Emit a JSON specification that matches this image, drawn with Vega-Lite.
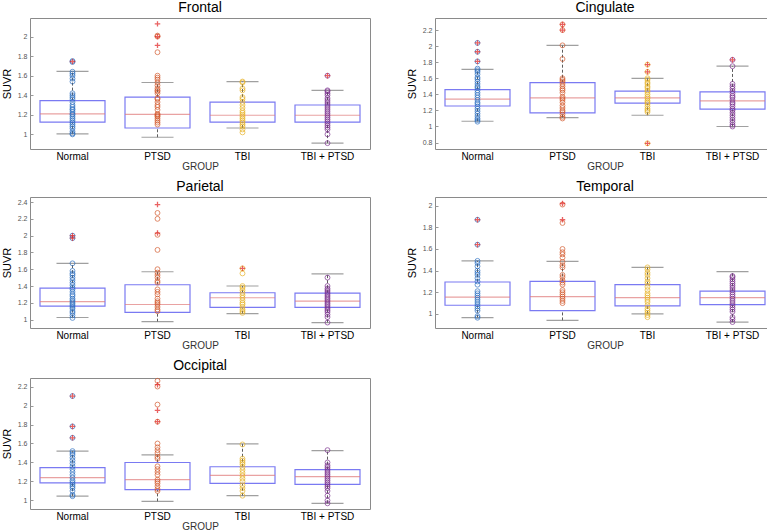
{
"$schema":"https://vega.github.io/schema/vega-lite/v6.json",
"padding":{"left":0,"top":0,"right":0,"bottom":0},
"background":"white",
"config":{
 "font":"Liberation Sans",
 "view":{"stroke":"#8a8a8a","strokeWidth":1},
 "title":{"fontSize":14,"fontWeight":"normal","font":"Liberation Sans","color":"#000","offset":3},
 "axisY":{"grid":false,"domain":false,"tickSize":-3,"tickColor":"#999","labelPadding":6,"labelFontSize":7,"labelColor":"#555","labelOverlap":false,"format":"~g","titleFontSize":11,"titleFontWeight":"normal","titleColor":"#000","titlePadding":5},
 "axisX":{"grid":false,"domain":false,"ticks":false,"labelAngle":0,"labelFontSize":10,"labelColor":"#000","titleFontSize":10,"titleFontWeight":"normal","titleColor":"#333","labelPadding":2,"titlePadding":0}
},
"datasets":{"d":[
{"r":"Frontal","g":"Normal","lo":1.005,"q1":1.125,"md":1.21,"q3":1.345,"hi":1.645},
{"r":"Frontal","g":"PTSD","lo":0.97,"q1":1.065,"md":1.205,"q3":1.38,"hi":1.53},
{"r":"Frontal","g":"TBI","lo":1.065,"q1":1.125,"md":1.195,"q3":1.33,"hi":1.54},
{"r":"Frontal","g":"TBI + PTSD","lo":0.91,"q1":1.125,"md":1.195,"q3":1.3,"hi":1.45},
{"r":"Cingulate","g":"Normal","lo":1.065,"q1":1.255,"md":1.34,"q3":1.46,"hi":1.71},
{"r":"Cingulate","g":"PTSD","lo":1.11,"q1":1.17,"md":1.355,"q3":1.545,"hi":2.01},
{"r":"Cingulate","g":"TBI","lo":1.14,"q1":1.29,"md":1.355,"q3":1.44,"hi":1.6},
{"r":"Cingulate","g":"TBI + PTSD","lo":1.0,"q1":1.215,"md":1.32,"q3":1.43,"hi":1.75},
{"r":"Parietal","g":"Normal","lo":1.025,"q1":1.16,"md":1.215,"q3":1.375,"hi":1.67},
{"r":"Parietal","g":"PTSD","lo":0.975,"q1":1.085,"md":1.18,"q3":1.415,"hi":1.57},
{"r":"Parietal","g":"TBI","lo":1.07,"q1":1.145,"md":1.26,"q3":1.32,"hi":1.4},
{"r":"Parietal","g":"TBI + PTSD","lo":0.965,"q1":1.145,"md":1.22,"q3":1.315,"hi":1.545},
{"r":"Temporal","g":"Normal","lo":0.965,"q1":1.08,"md":1.155,"q3":1.295,"hi":1.49},
{"r":"Temporal","g":"PTSD","lo":0.94,"q1":1.03,"md":1.16,"q3":1.3,"hi":1.485},
{"r":"Temporal","g":"TBI","lo":1.0,"q1":1.075,"md":1.15,"q3":1.27,"hi":1.43},
{"r":"Temporal","g":"TBI + PTSD","lo":0.925,"q1":1.085,"md":1.15,"q3":1.21,"hi":1.39},
{"r":"Occipital","g":"Normal","lo":1.045,"q1":1.185,"md":1.24,"q3":1.345,"hi":1.52},
{"r":"Occipital","g":"PTSD","lo":0.99,"q1":1.115,"md":1.22,"q3":1.4,"hi":1.48},
{"r":"Occipital","g":"TBI","lo":1.05,"q1":1.18,"md":1.265,"q3":1.355,"hi":1.595},
{"r":"Occipital","g":"TBI + PTSD","lo":0.97,"q1":1.17,"md":1.25,"q3":1.325,"hi":1.525},
{"r":"Frontal","g":"Normal","o":1.745},
{"r":"Frontal","g":"PTSD","o":2.13},
{"r":"Frontal","g":"PTSD","o":2.0},
{"r":"Frontal","g":"PTSD","o":1.91},
{"r":"Frontal","g":"TBI + PTSD","o":1.6},
{"r":"Cingulate","g":"Normal","o":2.04},
{"r":"Cingulate","g":"Normal","o":1.93},
{"r":"Cingulate","g":"Normal","o":1.81},
{"r":"Cingulate","g":"PTSD","o":2.27},
{"r":"Cingulate","g":"PTSD","o":2.2},
{"r":"Cingulate","g":"TBI","o":1.77},
{"r":"Cingulate","g":"TBI","o":1.68},
{"r":"Cingulate","g":"TBI","o":0.79},
{"r":"Cingulate","g":"TBI + PTSD","o":1.83},
{"r":"Parietal","g":"Normal","o":2.0},
{"r":"Parietal","g":"Normal","o":1.97},
{"r":"Parietal","g":"PTSD","o":2.37},
{"r":"Parietal","g":"PTSD","o":2.03},
{"r":"Parietal","g":"TBI","o":1.61},
{"r":"Temporal","g":"Normal","o":1.87},
{"r":"Temporal","g":"Normal","o":1.64},
{"r":"Temporal","g":"PTSD","o":2.02},
{"r":"Temporal","g":"PTSD","o":1.87},
{"r":"Occipital","g":"Normal","o":2.1},
{"r":"Occipital","g":"Normal","o":1.78},
{"r":"Occipital","g":"Normal","o":1.66},
{"r":"Occipital","g":"PTSD","o":2.22},
{"r":"Occipital","g":"PTSD","o":1.95},
{"r":"Occipital","g":"PTSD","o":1.83},
{"r":"Frontal","g":"Normal","v":1.0},{"r":"Frontal","g":"Normal","v":1.01},{"r":"Frontal","g":"Normal","v":1.03},{"r":"Frontal","g":"Normal","v":1.06},{"r":"Frontal","g":"Normal","v":1.08},{"r":"Frontal","g":"Normal","v":1.1},{"r":"Frontal","g":"Normal","v":1.12},{"r":"Frontal","g":"Normal","v":1.14},{"r":"Frontal","g":"Normal","v":1.16},{"r":"Frontal","g":"Normal","v":1.18},{"r":"Frontal","g":"Normal","v":1.2},{"r":"Frontal","g":"Normal","v":1.21},{"r":"Frontal","g":"Normal","v":1.23},{"r":"Frontal","g":"Normal","v":1.25},{"r":"Frontal","g":"Normal","v":1.26},{"r":"Frontal","g":"Normal","v":1.28},{"r":"Frontal","g":"Normal","v":1.3},{"r":"Frontal","g":"Normal","v":1.33},{"r":"Frontal","g":"Normal","v":1.36},{"r":"Frontal","g":"Normal","v":1.38},{"r":"Frontal","g":"Normal","v":1.4},{"r":"Frontal","g":"Normal","v":1.42},{"r":"Frontal","g":"Normal","v":1.54},{"r":"Frontal","g":"Normal","v":1.57},{"r":"Frontal","g":"Normal","v":1.6},{"r":"Frontal","g":"Normal","v":1.62},{"r":"Frontal","g":"Normal","v":1.64},{"r":"Frontal","g":"Normal","v":1.74},{"r":"Frontal","g":"Normal","v":1.75},
{"r":"Frontal","g":"PTSD","v":1.1},{"r":"Frontal","g":"PTSD","v":1.12},{"r":"Frontal","g":"PTSD","v":1.14},{"r":"Frontal","g":"PTSD","v":1.16},{"r":"Frontal","g":"PTSD","v":1.18},{"r":"Frontal","g":"PTSD","v":1.19},{"r":"Frontal","g":"PTSD","v":1.2},{"r":"Frontal","g":"PTSD","v":1.21},{"r":"Frontal","g":"PTSD","v":1.25},{"r":"Frontal","g":"PTSD","v":1.28},{"r":"Frontal","g":"PTSD","v":1.3},{"r":"Frontal","g":"PTSD","v":1.33},{"r":"Frontal","g":"PTSD","v":1.36},{"r":"Frontal","g":"PTSD","v":1.37},{"r":"Frontal","g":"PTSD","v":1.42},{"r":"Frontal","g":"PTSD","v":1.44},{"r":"Frontal","g":"PTSD","v":1.45},{"r":"Frontal","g":"PTSD","v":1.47},{"r":"Frontal","g":"PTSD","v":1.5},{"r":"Frontal","g":"PTSD","v":1.53},{"r":"Frontal","g":"PTSD","v":1.56},{"r":"Frontal","g":"PTSD","v":1.58},{"r":"Frontal","g":"PTSD","v":1.6},{"r":"Frontal","g":"PTSD","v":1.84},{"r":"Frontal","g":"PTSD","v":2.0},{"r":"Frontal","g":"PTSD","v":2.01},
{"r":"Frontal","g":"TBI","v":1.02},{"r":"Frontal","g":"TBI","v":1.05},{"r":"Frontal","g":"TBI","v":1.08},{"r":"Frontal","g":"TBI","v":1.1},{"r":"Frontal","g":"TBI","v":1.12},{"r":"Frontal","g":"TBI","v":1.14},{"r":"Frontal","g":"TBI","v":1.16},{"r":"Frontal","g":"TBI","v":1.18},{"r":"Frontal","g":"TBI","v":1.2},{"r":"Frontal","g":"TBI","v":1.22},{"r":"Frontal","g":"TBI","v":1.24},{"r":"Frontal","g":"TBI","v":1.27},{"r":"Frontal","g":"TBI","v":1.3},{"r":"Frontal","g":"TBI","v":1.33},{"r":"Frontal","g":"TBI","v":1.36},{"r":"Frontal","g":"TBI","v":1.38},{"r":"Frontal","g":"TBI","v":1.45},{"r":"Frontal","g":"TBI","v":1.47},{"r":"Frontal","g":"TBI","v":1.53},{"r":"Frontal","g":"TBI","v":1.54},
{"r":"Frontal","g":"TBI + PTSD","v":0.91},{"r":"Frontal","g":"TBI + PTSD","v":1.0},{"r":"Frontal","g":"TBI + PTSD","v":1.05},{"r":"Frontal","g":"TBI + PTSD","v":1.07},{"r":"Frontal","g":"TBI + PTSD","v":1.09},{"r":"Frontal","g":"TBI + PTSD","v":1.11},{"r":"Frontal","g":"TBI + PTSD","v":1.13},{"r":"Frontal","g":"TBI + PTSD","v":1.15},{"r":"Frontal","g":"TBI + PTSD","v":1.17},{"r":"Frontal","g":"TBI + PTSD","v":1.19},{"r":"Frontal","g":"TBI + PTSD","v":1.21},{"r":"Frontal","g":"TBI + PTSD","v":1.23},{"r":"Frontal","g":"TBI + PTSD","v":1.25},{"r":"Frontal","g":"TBI + PTSD","v":1.27},{"r":"Frontal","g":"TBI + PTSD","v":1.29},{"r":"Frontal","g":"TBI + PTSD","v":1.31},{"r":"Frontal","g":"TBI + PTSD","v":1.33},{"r":"Frontal","g":"TBI + PTSD","v":1.35},{"r":"Frontal","g":"TBI + PTSD","v":1.37},{"r":"Frontal","g":"TBI + PTSD","v":1.4},{"r":"Frontal","g":"TBI + PTSD","v":1.42},{"r":"Frontal","g":"TBI + PTSD","v":1.44},{"r":"Frontal","g":"TBI + PTSD","v":1.45},{"r":"Frontal","g":"TBI + PTSD","v":1.6},
{"r":"Cingulate","g":"Normal","v":1.06},{"r":"Cingulate","g":"Normal","v":1.08},{"r":"Cingulate","g":"Normal","v":1.1},{"r":"Cingulate","g":"Normal","v":1.13},{"r":"Cingulate","g":"Normal","v":1.16},{"r":"Cingulate","g":"Normal","v":1.19},{"r":"Cingulate","g":"Normal","v":1.22},{"r":"Cingulate","g":"Normal","v":1.25},{"r":"Cingulate","g":"Normal","v":1.28},{"r":"Cingulate","g":"Normal","v":1.3},{"r":"Cingulate","g":"Normal","v":1.33},{"r":"Cingulate","g":"Normal","v":1.36},{"r":"Cingulate","g":"Normal","v":1.39},{"r":"Cingulate","g":"Normal","v":1.42},{"r":"Cingulate","g":"Normal","v":1.45},{"r":"Cingulate","g":"Normal","v":1.48},{"r":"Cingulate","g":"Normal","v":1.5},{"r":"Cingulate","g":"Normal","v":1.53},{"r":"Cingulate","g":"Normal","v":1.56},{"r":"Cingulate","g":"Normal","v":1.59},{"r":"Cingulate","g":"Normal","v":1.61},{"r":"Cingulate","g":"Normal","v":1.65},{"r":"Cingulate","g":"Normal","v":1.68},{"r":"Cingulate","g":"Normal","v":1.7},{"r":"Cingulate","g":"Normal","v":1.72},{"r":"Cingulate","g":"Normal","v":1.81},{"r":"Cingulate","g":"Normal","v":1.93},{"r":"Cingulate","g":"Normal","v":2.04},
{"r":"Cingulate","g":"PTSD","v":1.1},{"r":"Cingulate","g":"PTSD","v":1.12},{"r":"Cingulate","g":"PTSD","v":1.15},{"r":"Cingulate","g":"PTSD","v":1.18},{"r":"Cingulate","g":"PTSD","v":1.2},{"r":"Cingulate","g":"PTSD","v":1.23},{"r":"Cingulate","g":"PTSD","v":1.26},{"r":"Cingulate","g":"PTSD","v":1.3},{"r":"Cingulate","g":"PTSD","v":1.33},{"r":"Cingulate","g":"PTSD","v":1.35},{"r":"Cingulate","g":"PTSD","v":1.37},{"r":"Cingulate","g":"PTSD","v":1.42},{"r":"Cingulate","g":"PTSD","v":1.45},{"r":"Cingulate","g":"PTSD","v":1.47},{"r":"Cingulate","g":"PTSD","v":1.5},{"r":"Cingulate","g":"PTSD","v":1.53},{"r":"Cingulate","g":"PTSD","v":1.56},{"r":"Cingulate","g":"PTSD","v":1.58},{"r":"Cingulate","g":"PTSD","v":1.6},{"r":"Cingulate","g":"PTSD","v":1.84},{"r":"Cingulate","g":"PTSD","v":2.01},{"r":"Cingulate","g":"PTSD","v":2.2},{"r":"Cingulate","g":"PTSD","v":2.27},
{"r":"Cingulate","g":"TBI","v":0.79},{"r":"Cingulate","g":"TBI","v":1.18},{"r":"Cingulate","g":"TBI","v":1.2},{"r":"Cingulate","g":"TBI","v":1.22},{"r":"Cingulate","g":"TBI","v":1.25},{"r":"Cingulate","g":"TBI","v":1.28},{"r":"Cingulate","g":"TBI","v":1.3},{"r":"Cingulate","g":"TBI","v":1.32},{"r":"Cingulate","g":"TBI","v":1.35},{"r":"Cingulate","g":"TBI","v":1.37},{"r":"Cingulate","g":"TBI","v":1.4},{"r":"Cingulate","g":"TBI","v":1.43},{"r":"Cingulate","g":"TBI","v":1.45},{"r":"Cingulate","g":"TBI","v":1.48},{"r":"Cingulate","g":"TBI","v":1.5},{"r":"Cingulate","g":"TBI","v":1.53},{"r":"Cingulate","g":"TBI","v":1.55},{"r":"Cingulate","g":"TBI","v":1.58},{"r":"Cingulate","g":"TBI","v":1.6},{"r":"Cingulate","g":"TBI","v":1.68},{"r":"Cingulate","g":"TBI","v":1.77},
{"r":"Cingulate","g":"TBI + PTSD","v":1.0},{"r":"Cingulate","g":"TBI + PTSD","v":1.02},{"r":"Cingulate","g":"TBI + PTSD","v":1.05},{"r":"Cingulate","g":"TBI + PTSD","v":1.08},{"r":"Cingulate","g":"TBI + PTSD","v":1.11},{"r":"Cingulate","g":"TBI + PTSD","v":1.14},{"r":"Cingulate","g":"TBI + PTSD","v":1.17},{"r":"Cingulate","g":"TBI + PTSD","v":1.2},{"r":"Cingulate","g":"TBI + PTSD","v":1.22},{"r":"Cingulate","g":"TBI + PTSD","v":1.25},{"r":"Cingulate","g":"TBI + PTSD","v":1.28},{"r":"Cingulate","g":"TBI + PTSD","v":1.3},{"r":"Cingulate","g":"TBI + PTSD","v":1.33},{"r":"Cingulate","g":"TBI + PTSD","v":1.36},{"r":"Cingulate","g":"TBI + PTSD","v":1.38},{"r":"Cingulate","g":"TBI + PTSD","v":1.41},{"r":"Cingulate","g":"TBI + PTSD","v":1.44},{"r":"Cingulate","g":"TBI + PTSD","v":1.47},{"r":"Cingulate","g":"TBI + PTSD","v":1.5},{"r":"Cingulate","g":"TBI + PTSD","v":1.53},{"r":"Cingulate","g":"TBI + PTSD","v":1.75},{"r":"Cingulate","g":"TBI + PTSD","v":1.83},
{"r":"Parietal","g":"Normal","v":1.02},{"r":"Parietal","g":"Normal","v":1.05},{"r":"Parietal","g":"Normal","v":1.08},{"r":"Parietal","g":"Normal","v":1.1},{"r":"Parietal","g":"Normal","v":1.13},{"r":"Parietal","g":"Normal","v":1.15},{"r":"Parietal","g":"Normal","v":1.17},{"r":"Parietal","g":"Normal","v":1.19},{"r":"Parietal","g":"Normal","v":1.21},{"r":"Parietal","g":"Normal","v":1.23},{"r":"Parietal","g":"Normal","v":1.25},{"r":"Parietal","g":"Normal","v":1.28},{"r":"Parietal","g":"Normal","v":1.3},{"r":"Parietal","g":"Normal","v":1.33},{"r":"Parietal","g":"Normal","v":1.36},{"r":"Parietal","g":"Normal","v":1.38},{"r":"Parietal","g":"Normal","v":1.41},{"r":"Parietal","g":"Normal","v":1.44},{"r":"Parietal","g":"Normal","v":1.47},{"r":"Parietal","g":"Normal","v":1.5},{"r":"Parietal","g":"Normal","v":1.53},{"r":"Parietal","g":"Normal","v":1.55},{"r":"Parietal","g":"Normal","v":1.58},{"r":"Parietal","g":"Normal","v":1.67},{"r":"Parietal","g":"Normal","v":1.97},{"r":"Parietal","g":"Normal","v":2.0},
{"r":"Parietal","g":"PTSD","v":1.1},{"r":"Parietal","g":"PTSD","v":1.12},{"r":"Parietal","g":"PTSD","v":1.15},{"r":"Parietal","g":"PTSD","v":1.18},{"r":"Parietal","g":"PTSD","v":1.2},{"r":"Parietal","g":"PTSD","v":1.22},{"r":"Parietal","g":"PTSD","v":1.25},{"r":"Parietal","g":"PTSD","v":1.3},{"r":"Parietal","g":"PTSD","v":1.33},{"r":"Parietal","g":"PTSD","v":1.36},{"r":"Parietal","g":"PTSD","v":1.44},{"r":"Parietal","g":"PTSD","v":1.46},{"r":"Parietal","g":"PTSD","v":1.5},{"r":"Parietal","g":"PTSD","v":1.53},{"r":"Parietal","g":"PTSD","v":1.56},{"r":"Parietal","g":"PTSD","v":1.6},{"r":"Parietal","g":"PTSD","v":1.83},{"r":"Parietal","g":"PTSD","v":2.01},{"r":"Parietal","g":"PTSD","v":2.2},{"r":"Parietal","g":"PTSD","v":2.27},
{"r":"Parietal","g":"TBI","v":1.08},{"r":"Parietal","g":"TBI","v":1.1},{"r":"Parietal","g":"TBI","v":1.12},{"r":"Parietal","g":"TBI","v":1.15},{"r":"Parietal","g":"TBI","v":1.18},{"r":"Parietal","g":"TBI","v":1.2},{"r":"Parietal","g":"TBI","v":1.23},{"r":"Parietal","g":"TBI","v":1.26},{"r":"Parietal","g":"TBI","v":1.29},{"r":"Parietal","g":"TBI","v":1.32},{"r":"Parietal","g":"TBI","v":1.35},{"r":"Parietal","g":"TBI","v":1.38},{"r":"Parietal","g":"TBI","v":1.4},{"r":"Parietal","g":"TBI","v":1.55},{"r":"Parietal","g":"TBI","v":1.61},
{"r":"Parietal","g":"TBI + PTSD","v":0.965},{"r":"Parietal","g":"TBI + PTSD","v":1.03},{"r":"Parietal","g":"TBI + PTSD","v":1.06},{"r":"Parietal","g":"TBI + PTSD","v":1.09},{"r":"Parietal","g":"TBI + PTSD","v":1.11},{"r":"Parietal","g":"TBI + PTSD","v":1.13},{"r":"Parietal","g":"TBI + PTSD","v":1.15},{"r":"Parietal","g":"TBI + PTSD","v":1.17},{"r":"Parietal","g":"TBI + PTSD","v":1.19},{"r":"Parietal","g":"TBI + PTSD","v":1.21},{"r":"Parietal","g":"TBI + PTSD","v":1.23},{"r":"Parietal","g":"TBI + PTSD","v":1.25},{"r":"Parietal","g":"TBI + PTSD","v":1.27},{"r":"Parietal","g":"TBI + PTSD","v":1.29},{"r":"Parietal","g":"TBI + PTSD","v":1.31},{"r":"Parietal","g":"TBI + PTSD","v":1.33},{"r":"Parietal","g":"TBI + PTSD","v":1.35},{"r":"Parietal","g":"TBI + PTSD","v":1.37},{"r":"Parietal","g":"TBI + PTSD","v":1.4},{"r":"Parietal","g":"TBI + PTSD","v":1.5},
{"r":"Temporal","g":"Normal","v":0.965},{"r":"Temporal","g":"Normal","v":0.98},{"r":"Temporal","g":"Normal","v":1.03},{"r":"Temporal","g":"Normal","v":1.05},{"r":"Temporal","g":"Normal","v":1.07},{"r":"Temporal","g":"Normal","v":1.09},{"r":"Temporal","g":"Normal","v":1.11},{"r":"Temporal","g":"Normal","v":1.13},{"r":"Temporal","g":"Normal","v":1.15},{"r":"Temporal","g":"Normal","v":1.17},{"r":"Temporal","g":"Normal","v":1.19},{"r":"Temporal","g":"Normal","v":1.21},{"r":"Temporal","g":"Normal","v":1.27},{"r":"Temporal","g":"Normal","v":1.3},{"r":"Temporal","g":"Normal","v":1.33},{"r":"Temporal","g":"Normal","v":1.36},{"r":"Temporal","g":"Normal","v":1.38},{"r":"Temporal","g":"Normal","v":1.4},{"r":"Temporal","g":"Normal","v":1.44},{"r":"Temporal","g":"Normal","v":1.47},{"r":"Temporal","g":"Normal","v":1.49},{"r":"Temporal","g":"Normal","v":1.64},{"r":"Temporal","g":"Normal","v":1.87},
{"r":"Temporal","g":"PTSD","v":1.1},{"r":"Temporal","g":"PTSD","v":1.12},{"r":"Temporal","g":"PTSD","v":1.14},{"r":"Temporal","g":"PTSD","v":1.16},{"r":"Temporal","g":"PTSD","v":1.18},{"r":"Temporal","g":"PTSD","v":1.2},{"r":"Temporal","g":"PTSD","v":1.22},{"r":"Temporal","g":"PTSD","v":1.27},{"r":"Temporal","g":"PTSD","v":1.29},{"r":"Temporal","g":"PTSD","v":1.31},{"r":"Temporal","g":"PTSD","v":1.34},{"r":"Temporal","g":"PTSD","v":1.36},{"r":"Temporal","g":"PTSD","v":1.43},{"r":"Temporal","g":"PTSD","v":1.45},{"r":"Temporal","g":"PTSD","v":1.48},{"r":"Temporal","g":"PTSD","v":1.52},{"r":"Temporal","g":"PTSD","v":1.55},{"r":"Temporal","g":"PTSD","v":1.57},{"r":"Temporal","g":"PTSD","v":1.6},{"r":"Temporal","g":"PTSD","v":1.84},{"r":"Temporal","g":"PTSD","v":2.01},
{"r":"Temporal","g":"TBI","v":0.97},{"r":"Temporal","g":"TBI","v":0.99},{"r":"Temporal","g":"TBI","v":1.01},{"r":"Temporal","g":"TBI","v":1.03},{"r":"Temporal","g":"TBI","v":1.05},{"r":"Temporal","g":"TBI","v":1.08},{"r":"Temporal","g":"TBI","v":1.11},{"r":"Temporal","g":"TBI","v":1.13},{"r":"Temporal","g":"TBI","v":1.15},{"r":"Temporal","g":"TBI","v":1.17},{"r":"Temporal","g":"TBI","v":1.19},{"r":"Temporal","g":"TBI","v":1.22},{"r":"Temporal","g":"TBI","v":1.25},{"r":"Temporal","g":"TBI","v":1.28},{"r":"Temporal","g":"TBI","v":1.3},{"r":"Temporal","g":"TBI","v":1.33},{"r":"Temporal","g":"TBI","v":1.36},{"r":"Temporal","g":"TBI","v":1.38},{"r":"Temporal","g":"TBI","v":1.41},{"r":"Temporal","g":"TBI","v":1.43},
{"r":"Temporal","g":"TBI + PTSD","v":0.925},{"r":"Temporal","g":"TBI + PTSD","v":0.95},{"r":"Temporal","g":"TBI + PTSD","v":0.97},{"r":"Temporal","g":"TBI + PTSD","v":1.02},{"r":"Temporal","g":"TBI + PTSD","v":1.04},{"r":"Temporal","g":"TBI + PTSD","v":1.06},{"r":"Temporal","g":"TBI + PTSD","v":1.08},{"r":"Temporal","g":"TBI + PTSD","v":1.1},{"r":"Temporal","g":"TBI + PTSD","v":1.12},{"r":"Temporal","g":"TBI + PTSD","v":1.14},{"r":"Temporal","g":"TBI + PTSD","v":1.16},{"r":"Temporal","g":"TBI + PTSD","v":1.18},{"r":"Temporal","g":"TBI + PTSD","v":1.2},{"r":"Temporal","g":"TBI + PTSD","v":1.22},{"r":"Temporal","g":"TBI + PTSD","v":1.24},{"r":"Temporal","g":"TBI + PTSD","v":1.26},{"r":"Temporal","g":"TBI + PTSD","v":1.28},{"r":"Temporal","g":"TBI + PTSD","v":1.3},{"r":"Temporal","g":"TBI + PTSD","v":1.32},{"r":"Temporal","g":"TBI + PTSD","v":1.34},{"r":"Temporal","g":"TBI + PTSD","v":1.35},
{"r":"Occipital","g":"Normal","v":1.045},{"r":"Occipital","g":"Normal","v":1.06},{"r":"Occipital","g":"Normal","v":1.1},{"r":"Occipital","g":"Normal","v":1.13},{"r":"Occipital","g":"Normal","v":1.15},{"r":"Occipital","g":"Normal","v":1.17},{"r":"Occipital","g":"Normal","v":1.19},{"r":"Occipital","g":"Normal","v":1.21},{"r":"Occipital","g":"Normal","v":1.24},{"r":"Occipital","g":"Normal","v":1.27},{"r":"Occipital","g":"Normal","v":1.3},{"r":"Occipital","g":"Normal","v":1.33},{"r":"Occipital","g":"Normal","v":1.36},{"r":"Occipital","g":"Normal","v":1.39},{"r":"Occipital","g":"Normal","v":1.42},{"r":"Occipital","g":"Normal","v":1.45},{"r":"Occipital","g":"Normal","v":1.48},{"r":"Occipital","g":"Normal","v":1.5},{"r":"Occipital","g":"Normal","v":1.52},{"r":"Occipital","g":"Normal","v":1.66},{"r":"Occipital","g":"Normal","v":1.78},{"r":"Occipital","g":"Normal","v":2.1},
{"r":"Occipital","g":"PTSD","v":1.1},{"r":"Occipital","g":"PTSD","v":1.12},{"r":"Occipital","g":"PTSD","v":1.15},{"r":"Occipital","g":"PTSD","v":1.18},{"r":"Occipital","g":"PTSD","v":1.2},{"r":"Occipital","g":"PTSD","v":1.22},{"r":"Occipital","g":"PTSD","v":1.27},{"r":"Occipital","g":"PTSD","v":1.3},{"r":"Occipital","g":"PTSD","v":1.33},{"r":"Occipital","g":"PTSD","v":1.36},{"r":"Occipital","g":"PTSD","v":1.44},{"r":"Occipital","g":"PTSD","v":1.46},{"r":"Occipital","g":"PTSD","v":1.5},{"r":"Occipital","g":"PTSD","v":1.53},{"r":"Occipital","g":"PTSD","v":1.56},{"r":"Occipital","g":"PTSD","v":1.6},{"r":"Occipital","g":"PTSD","v":1.83},{"r":"Occipital","g":"PTSD","v":2.01},{"r":"Occipital","g":"PTSD","v":2.2},{"r":"Occipital","g":"PTSD","v":2.26},
{"r":"Occipital","g":"TBI","v":1.05},{"r":"Occipital","g":"TBI","v":1.1},{"r":"Occipital","g":"TBI","v":1.13},{"r":"Occipital","g":"TBI","v":1.16},{"r":"Occipital","g":"TBI","v":1.2},{"r":"Occipital","g":"TBI","v":1.23},{"r":"Occipital","g":"TBI","v":1.26},{"r":"Occipital","g":"TBI","v":1.29},{"r":"Occipital","g":"TBI","v":1.32},{"r":"Occipital","g":"TBI","v":1.35},{"r":"Occipital","g":"TBI","v":1.38},{"r":"Occipital","g":"TBI","v":1.4},{"r":"Occipital","g":"TBI","v":1.42},{"r":"Occipital","g":"TBI","v":1.44},{"r":"Occipital","g":"TBI","v":1.59},
{"r":"Occipital","g":"TBI + PTSD","v":0.97},{"r":"Occipital","g":"TBI + PTSD","v":1.0},{"r":"Occipital","g":"TBI + PTSD","v":1.05},{"r":"Occipital","g":"TBI + PTSD","v":1.1},{"r":"Occipital","g":"TBI + PTSD","v":1.13},{"r":"Occipital","g":"TBI + PTSD","v":1.15},{"r":"Occipital","g":"TBI + PTSD","v":1.17},{"r":"Occipital","g":"TBI + PTSD","v":1.19},{"r":"Occipital","g":"TBI + PTSD","v":1.21},{"r":"Occipital","g":"TBI + PTSD","v":1.23},{"r":"Occipital","g":"TBI + PTSD","v":1.25},{"r":"Occipital","g":"TBI + PTSD","v":1.27},{"r":"Occipital","g":"TBI + PTSD","v":1.29},{"r":"Occipital","g":"TBI + PTSD","v":1.31},{"r":"Occipital","g":"TBI + PTSD","v":1.33},{"r":"Occipital","g":"TBI + PTSD","v":1.35},{"r":"Occipital","g":"TBI + PTSD","v":1.37},{"r":"Occipital","g":"TBI + PTSD","v":1.4},{"r":"Occipital","g":"TBI + PTSD","v":1.53}
]},
"vconcat":[
{"hconcat":[
{"width":340,"height":131,"title":"Frontal","data":{"name":"d"},"transform":[{"filter":"datum.r==='Frontal'"}],
 "encoding":{"x":{"field":"g","type":"nominal","title":"GROUP","scale":{"domain":["Normal","PTSD","TBI","TBI + PTSD"],"paddingInner":0,"paddingOuter":0}}},
 "layer":[
  {"mark":{"type":"rule","strokeDash":[3,2],"color":"#333","strokeWidth":0.8},"encoding":{"y":{"field":"lo","type":"quantitative","title":"SUVR","scale":{"domain":[0.85,2.19],"nice":false,"zero":false},"axis":{"values":[1,1.2,1.4,1.6,1.8,2],"labelOverlap":false}},"y2":{"field":"q1"}}},
  {"mark":{"type":"rule","strokeDash":[3,2],"color":"#333","strokeWidth":0.8},"encoding":{"y":{"field":"q3","type":"quantitative","title":"SUVR","axis":{"values":[1,1.2,1.4,1.6,1.8,2],"labelOverlap":false}},"y2":{"field":"hi"}}},
  {"mark":{"type":"bar","size":65,"fillOpacity":0,"stroke":"#7a7af2","strokeWidth":1.2},"encoding":{"y":{"field":"q1","type":"quantitative","title":"SUVR","axis":{"values":[1,1.2,1.4,1.6,1.8,2],"labelOverlap":false}},"y2":{"field":"q3"}}},
  {"mark":{"type":"tick","size":65,"thickness":1.2,"color":"#e07a7a"},"encoding":{"y":{"field":"md","type":"quantitative","title":"SUVR","axis":{"values":[1,1.2,1.4,1.6,1.8,2],"labelOverlap":false}}}},
  {"mark":{"type":"tick","size":32,"thickness":1.2,"color":"#777"},"encoding":{"y":{"field":"lo","type":"quantitative","title":"SUVR","axis":{"values":[1,1.2,1.4,1.6,1.8,2],"labelOverlap":false}}}},
  {"mark":{"type":"tick","size":32,"thickness":1.2,"color":"#777"},"encoding":{"y":{"field":"hi","type":"quantitative","title":"SUVR","axis":{"values":[1,1.2,1.4,1.6,1.8,2],"labelOverlap":false}}}},
  {"mark":{"type":"point","filled":false,"size":24,"strokeWidth":1},"encoding":{"y":{"field":"v","type":"quantitative","title":"SUVR","axis":{"values":[1,1.2,1.4,1.6,1.8,2],"labelOverlap":false}},"color":{"field":"g","type":"nominal","legend":null,"scale":{"domain":["Normal","PTSD","TBI","TBI + PTSD"],"range":["#2b6fc2","#d4582a","#e9b324","#7a2e8e"]}}}},
  {"mark":{"type":"point","shape":"M-1,0L1,0M0,-1L0,1","filled":false,"size":30,"strokeWidth":1.3,"color":"#e02020"},"encoding":{"y":{"field":"o","type":"quantitative","title":"SUVR","axis":{"values":[1,1.2,1.4,1.6,1.8,2],"labelOverlap":false}}}}
 ]},
{"width":340,"height":131,"title":"Cingulate","data":{"name":"d"},"transform":[{"filter":"datum.r==='Cingulate'"}],
 "encoding":{"x":{"field":"g","type":"nominal","title":"GROUP","scale":{"domain":["Normal","PTSD","TBI","TBI + PTSD"],"paddingInner":0,"paddingOuter":0}}},
 "layer":[
  {"mark":{"type":"rule","strokeDash":[3,2],"color":"#333","strokeWidth":0.8},"encoding":{"y":{"field":"lo","type":"quantitative","title":"SUVR","scale":{"domain":[0.72,2.35],"nice":false,"zero":false},"axis":{"values":[0.8,1,1.2,1.4,1.6,1.8,2,2.2],"labelOverlap":false}},"y2":{"field":"q1"}}},
  {"mark":{"type":"rule","strokeDash":[3,2],"color":"#333","strokeWidth":0.8},"encoding":{"y":{"field":"q3","type":"quantitative","title":"SUVR","axis":{"values":[0.8,1,1.2,1.4,1.6,1.8,2,2.2],"labelOverlap":false}},"y2":{"field":"hi"}}},
  {"mark":{"type":"bar","size":65,"fillOpacity":0,"stroke":"#7a7af2","strokeWidth":1.2},"encoding":{"y":{"field":"q1","type":"quantitative","title":"SUVR","axis":{"values":[0.8,1,1.2,1.4,1.6,1.8,2,2.2],"labelOverlap":false}},"y2":{"field":"q3"}}},
  {"mark":{"type":"tick","size":65,"thickness":1.2,"color":"#e07a7a"},"encoding":{"y":{"field":"md","type":"quantitative","title":"SUVR","axis":{"values":[0.8,1,1.2,1.4,1.6,1.8,2,2.2],"labelOverlap":false}}}},
  {"mark":{"type":"tick","size":32,"thickness":1.2,"color":"#777"},"encoding":{"y":{"field":"lo","type":"quantitative","title":"SUVR","axis":{"values":[0.8,1,1.2,1.4,1.6,1.8,2,2.2],"labelOverlap":false}}}},
  {"mark":{"type":"tick","size":32,"thickness":1.2,"color":"#777"},"encoding":{"y":{"field":"hi","type":"quantitative","title":"SUVR","axis":{"values":[0.8,1,1.2,1.4,1.6,1.8,2,2.2],"labelOverlap":false}}}},
  {"mark":{"type":"point","filled":false,"size":24,"strokeWidth":1},"encoding":{"y":{"field":"v","type":"quantitative","title":"SUVR","axis":{"values":[0.8,1,1.2,1.4,1.6,1.8,2,2.2],"labelOverlap":false}},"color":{"field":"g","type":"nominal","legend":null,"scale":{"domain":["Normal","PTSD","TBI","TBI + PTSD"],"range":["#2b6fc2","#d4582a","#e9b324","#7a2e8e"]}}}},
  {"mark":{"type":"point","shape":"M-1,0L1,0M0,-1L0,1","filled":false,"size":30,"strokeWidth":1.3,"color":"#e02020"},"encoding":{"y":{"field":"o","type":"quantitative","title":"SUVR","axis":{"values":[0.8,1,1.2,1.4,1.6,1.8,2,2.2],"labelOverlap":false}}}}
 ]}
],"spacing":34},
{"hconcat":[
{"width":340,"height":131,"title":"Parietal","data":{"name":"d"},"transform":[{"filter":"datum.r==='Parietal'"}],
 "encoding":{"x":{"field":"g","type":"nominal","title":"GROUP","scale":{"domain":["Normal","PTSD","TBI","TBI + PTSD"],"paddingInner":0,"paddingOuter":0}}},
 "layer":[
  {"mark":{"type":"rule","strokeDash":[3,2],"color":"#333","strokeWidth":0.8},"encoding":{"y":{"field":"lo","type":"quantitative","title":"SUVR","scale":{"domain":[0.9,2.46],"nice":false,"zero":false},"axis":{"values":[1,1.2,1.4,1.6,1.8,2,2.2,2.4],"labelOverlap":false}},"y2":{"field":"q1"}}},
  {"mark":{"type":"rule","strokeDash":[3,2],"color":"#333","strokeWidth":0.8},"encoding":{"y":{"field":"q3","type":"quantitative","title":"SUVR","axis":{"values":[1,1.2,1.4,1.6,1.8,2,2.2,2.4],"labelOverlap":false}},"y2":{"field":"hi"}}},
  {"mark":{"type":"bar","size":65,"fillOpacity":0,"stroke":"#7a7af2","strokeWidth":1.2},"encoding":{"y":{"field":"q1","type":"quantitative","title":"SUVR","axis":{"values":[1,1.2,1.4,1.6,1.8,2,2.2,2.4],"labelOverlap":false}},"y2":{"field":"q3"}}},
  {"mark":{"type":"tick","size":65,"thickness":1.2,"color":"#e07a7a"},"encoding":{"y":{"field":"md","type":"quantitative","title":"SUVR","axis":{"values":[1,1.2,1.4,1.6,1.8,2,2.2,2.4],"labelOverlap":false}}}},
  {"mark":{"type":"tick","size":32,"thickness":1.2,"color":"#777"},"encoding":{"y":{"field":"lo","type":"quantitative","title":"SUVR","axis":{"values":[1,1.2,1.4,1.6,1.8,2,2.2,2.4],"labelOverlap":false}}}},
  {"mark":{"type":"tick","size":32,"thickness":1.2,"color":"#777"},"encoding":{"y":{"field":"hi","type":"quantitative","title":"SUVR","axis":{"values":[1,1.2,1.4,1.6,1.8,2,2.2,2.4],"labelOverlap":false}}}},
  {"mark":{"type":"point","filled":false,"size":24,"strokeWidth":1},"encoding":{"y":{"field":"v","type":"quantitative","title":"SUVR","axis":{"values":[1,1.2,1.4,1.6,1.8,2,2.2,2.4],"labelOverlap":false}},"color":{"field":"g","type":"nominal","legend":null,"scale":{"domain":["Normal","PTSD","TBI","TBI + PTSD"],"range":["#2b6fc2","#d4582a","#e9b324","#7a2e8e"]}}}},
  {"mark":{"type":"point","shape":"M-1,0L1,0M0,-1L0,1","filled":false,"size":30,"strokeWidth":1.3,"color":"#e02020"},"encoding":{"y":{"field":"o","type":"quantitative","title":"SUVR","axis":{"values":[1,1.2,1.4,1.6,1.8,2,2.2,2.4],"labelOverlap":false}}}}
 ]},
{"width":340,"height":131,"title":"Temporal","data":{"name":"d"},"transform":[{"filter":"datum.r==='Temporal'"}],
 "encoding":{"x":{"field":"g","type":"nominal","title":"GROUP","scale":{"domain":["Normal","PTSD","TBI","TBI + PTSD"],"paddingInner":0,"paddingOuter":0}}},
 "layer":[
  {"mark":{"type":"rule","strokeDash":[3,2],"color":"#333","strokeWidth":0.8},"encoding":{"y":{"field":"lo","type":"quantitative","title":"SUVR","scale":{"domain":[0.87,2.08],"nice":false,"zero":false},"axis":{"values":[1,1.2,1.4,1.6,1.8,2],"labelOverlap":false}},"y2":{"field":"q1"}}},
  {"mark":{"type":"rule","strokeDash":[3,2],"color":"#333","strokeWidth":0.8},"encoding":{"y":{"field":"q3","type":"quantitative","title":"SUVR","axis":{"values":[1,1.2,1.4,1.6,1.8,2],"labelOverlap":false}},"y2":{"field":"hi"}}},
  {"mark":{"type":"bar","size":65,"fillOpacity":0,"stroke":"#7a7af2","strokeWidth":1.2},"encoding":{"y":{"field":"q1","type":"quantitative","title":"SUVR","axis":{"values":[1,1.2,1.4,1.6,1.8,2],"labelOverlap":false}},"y2":{"field":"q3"}}},
  {"mark":{"type":"tick","size":65,"thickness":1.2,"color":"#e07a7a"},"encoding":{"y":{"field":"md","type":"quantitative","title":"SUVR","axis":{"values":[1,1.2,1.4,1.6,1.8,2],"labelOverlap":false}}}},
  {"mark":{"type":"tick","size":32,"thickness":1.2,"color":"#777"},"encoding":{"y":{"field":"lo","type":"quantitative","title":"SUVR","axis":{"values":[1,1.2,1.4,1.6,1.8,2],"labelOverlap":false}}}},
  {"mark":{"type":"tick","size":32,"thickness":1.2,"color":"#777"},"encoding":{"y":{"field":"hi","type":"quantitative","title":"SUVR","axis":{"values":[1,1.2,1.4,1.6,1.8,2],"labelOverlap":false}}}},
  {"mark":{"type":"point","filled":false,"size":24,"strokeWidth":1},"encoding":{"y":{"field":"v","type":"quantitative","title":"SUVR","axis":{"values":[1,1.2,1.4,1.6,1.8,2],"labelOverlap":false}},"color":{"field":"g","type":"nominal","legend":null,"scale":{"domain":["Normal","PTSD","TBI","TBI + PTSD"],"range":["#2b6fc2","#d4582a","#e9b324","#7a2e8e"]}}}},
  {"mark":{"type":"point","shape":"M-1,0L1,0M0,-1L0,1","filled":false,"size":30,"strokeWidth":1.3,"color":"#e02020"},"encoding":{"y":{"field":"o","type":"quantitative","title":"SUVR","axis":{"values":[1,1.2,1.4,1.6,1.8,2],"labelOverlap":false}}}}
 ]}
],"spacing":34},
{"hconcat":[
{"width":340,"height":131,"title":"Occipital","data":{"name":"d"},"transform":[{"filter":"datum.r==='Occipital'"}],
 "encoding":{"x":{"field":"g","type":"nominal","title":"GROUP","scale":{"domain":["Normal","PTSD","TBI","TBI + PTSD"],"paddingInner":0,"paddingOuter":0}}},
 "layer":[
  {"mark":{"type":"rule","strokeDash":[3,2],"color":"#333","strokeWidth":0.8},"encoding":{"y":{"field":"lo","type":"quantitative","title":"SUVR","scale":{"domain":[0.91,2.29],"nice":false,"zero":false},"axis":{"values":[1,1.2,1.4,1.6,1.8,2,2.2],"labelOverlap":false}},"y2":{"field":"q1"}}},
  {"mark":{"type":"rule","strokeDash":[3,2],"color":"#333","strokeWidth":0.8},"encoding":{"y":{"field":"q3","type":"quantitative","title":"SUVR","axis":{"values":[1,1.2,1.4,1.6,1.8,2,2.2],"labelOverlap":false}},"y2":{"field":"hi"}}},
  {"mark":{"type":"bar","size":65,"fillOpacity":0,"stroke":"#7a7af2","strokeWidth":1.2},"encoding":{"y":{"field":"q1","type":"quantitative","title":"SUVR","axis":{"values":[1,1.2,1.4,1.6,1.8,2,2.2],"labelOverlap":false}},"y2":{"field":"q3"}}},
  {"mark":{"type":"tick","size":65,"thickness":1.2,"color":"#e07a7a"},"encoding":{"y":{"field":"md","type":"quantitative","title":"SUVR","axis":{"values":[1,1.2,1.4,1.6,1.8,2,2.2],"labelOverlap":false}}}},
  {"mark":{"type":"tick","size":32,"thickness":1.2,"color":"#777"},"encoding":{"y":{"field":"lo","type":"quantitative","title":"SUVR","axis":{"values":[1,1.2,1.4,1.6,1.8,2,2.2],"labelOverlap":false}}}},
  {"mark":{"type":"tick","size":32,"thickness":1.2,"color":"#777"},"encoding":{"y":{"field":"hi","type":"quantitative","title":"SUVR","axis":{"values":[1,1.2,1.4,1.6,1.8,2,2.2],"labelOverlap":false}}}},
  {"mark":{"type":"point","filled":false,"size":24,"strokeWidth":1},"encoding":{"y":{"field":"v","type":"quantitative","title":"SUVR","axis":{"values":[1,1.2,1.4,1.6,1.8,2,2.2],"labelOverlap":false}},"color":{"field":"g","type":"nominal","legend":null,"scale":{"domain":["Normal","PTSD","TBI","TBI + PTSD"],"range":["#2b6fc2","#d4582a","#e9b324","#7a2e8e"]}}}},
  {"mark":{"type":"point","shape":"M-1,0L1,0M0,-1L0,1","filled":false,"size":30,"strokeWidth":1.3,"color":"#e02020"},"encoding":{"y":{"field":"o","type":"quantitative","title":"SUVR","axis":{"values":[1,1.2,1.4,1.6,1.8,2,2.2],"labelOverlap":false}}}}
 ]}
]}
],"spacing":7
}
